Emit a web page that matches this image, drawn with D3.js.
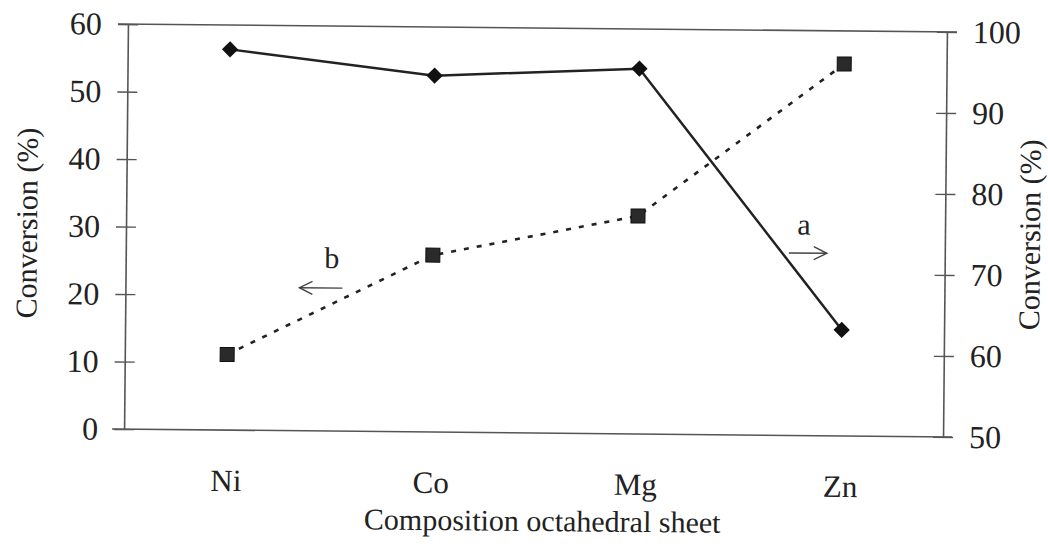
<!DOCTYPE html>
<html>
<head>
<meta charset="utf-8">
<script src="https://cdn.jsdelivr.net/npm/d3@7"></script>
<style>
  html, body { margin: 0; padding: 0; background: #fff; }
  svg { display: block; }
  text { font-family: "Liberation Serif", "Times New Roman", Times, "DejaVu Serif", serif; fill: #222; }
</style>
</head>
<body>
<svg id="chart" width="1048" height="552"></svg>
<script>
// Octahedral-sheet cations
const categories = ["Ni", "Co", "Mg", "Zn"];
// Series a (right axis, solid line with diamonds)
const seriesA = [97.0, 94.0, 95.1, 63.1];
// Series b (left axis, dotted line with squares)
const seriesB = [11.2, 26.2, 32.3, 55.1];
// Axis ticks
const leftTicks = [0, 10, 20, 30, 40, 50, 60];
const rightTicks = [50, 60, 70, 80, 90, 100];

const serif = '"Liberation Serif", "Times New Roman", Times, serif';
const svg = d3.select("#chart");
const m = { left: 126, right: 945, top: 28, bottom: 433 };

// whole figure sits slightly tilted, as printed
const g = svg.append("g")
  .attr("transform", "rotate(0.55, 535, 230)");

const x = d3.scaleBand().domain(categories).range([m.left, m.right]);
const yL = d3.scaleLinear().domain([0, 60]).range([m.bottom, m.top]);
const yR = d3.scaleLinear().domain([50, 100]).range([m.bottom, m.top]);
const cx = d => x(d) + x.bandwidth() / 2;

const axisColor = "#555";

// frame: top and bottom rules
g.append("line").attr("x1", m.left - 10).attr("x2", m.right + 10)
  .attr("y1", yL(60)).attr("y2", yL(60))
  .attr("stroke", axisColor).attr("stroke-width", 1.6);
g.append("line").attr("x1", m.left - 12).attr("x2", m.right + 9)
  .attr("y1", yL(0)).attr("y2", yL(0))
  .attr("stroke", axisColor).attr("stroke-width", 1.6);

// left axis
const leftAxis = d3.axisLeft(yL).tickValues(leftTicks).tickSize(0).tickPadding(26);
const gl = g.append("g").attr("transform", `translate(${m.left},0)`).call(leftAxis);
gl.select(".domain").attr("stroke", axisColor).attr("stroke-width", 1.6);
gl.selectAll(".tick text").style("font-size", "32px").attr("fill", "#222")
  .style("font-family", serif);
gl.selectAll(".tick").append("line")
  .attr("x1", -10).attr("x2", 10).attr("stroke", axisColor).attr("stroke-width", 1.4);

// right axis
const rightAxis = d3.axisRight(yR).tickValues(rightTicks).tickSize(0).tickPadding(26);
const gr = g.append("g").attr("transform", `translate(${m.right},0)`).call(rightAxis);
gr.select(".domain").attr("stroke", axisColor).attr("stroke-width", 1.6);
gr.selectAll(".tick text").style("font-size", "32px").attr("fill", "#222")
  .style("font-family", serif);
gr.selectAll(".tick").append("line")
  .attr("x1", -10).attr("x2", 10).attr("stroke", axisColor).attr("stroke-width", 1.4);

// category labels
const bottomAxis = d3.axisBottom(x).tickSize(0).tickPadding(0);
const gb = g.append("g").attr("transform", `translate(0,${m.bottom})`).call(bottomAxis);
gb.select(".domain").remove();
gb.selectAll(".tick text").attr("dy", null).attr("y", 61)
  .style("font-size", "31px").attr("fill", "#222")
  .style("font-family", serif);

// axis titles
g.append("text").attr("x", 545).attr("y", 531).attr("text-anchor", "middle")
  .style("font-size", "30px").text("Composition octahedral sheet");
g.append("text").attr("transform", "translate(37,228) rotate(-90)")
  .attr("text-anchor", "middle").style("font-size", "30px").text("Conversion (%)");
g.append("text").attr("transform", "translate(1040,230) rotate(-90)")
  .attr("text-anchor", "middle").style("font-size", "30px").text("Conversion (%)");

// series b: dotted line with squares
const lineB = d3.line().x((d, i) => cx(categories[i])).y(d => yL(d));
g.append("path").datum(seriesB).attr("d", lineB)
  .attr("fill", "none").attr("stroke", "#222").attr("stroke-width", 2.6)
  .attr("stroke-dasharray", "5,8");
g.selectAll(".sq").data(seriesB).enter().append("rect")
  .attr("x", (d, i) => cx(categories[i]) - 7).attr("y", d => yL(d) - 7)
  .attr("width", 14).attr("height", 14)
  .attr("fill", "#2a2a2a").attr("stroke", "#111").attr("stroke-width", 1);

// series a: solid line with diamonds
const lineA = d3.line().x((d, i) => cx(categories[i])).y(d => yR(d));
g.append("path").datum(seriesA).attr("d", lineA)
  .attr("fill", "none").attr("stroke", "#222").attr("stroke-width", 2.5);
g.selectAll(".dm").data(seriesA).enter().append("path")
  .attr("d", d3.symbol().type(d3.symbolDiamond2).size(170))
  .attr("transform", (d, i) => `translate(${cx(categories[i])},${yR(d)})`)
  .attr("fill", "#111");

// arrow annotations pointing to each series' axis
function arrow(x1, x2, y, label, lx, ly) {
  const dir = Math.sign(x2 - x1);
  g.append("line").attr("x1", x1).attr("x2", x2).attr("y1", y).attr("y2", y)
    .attr("stroke", "#444").attr("stroke-width", 1.4);
  g.append("path")
    .attr("d", `M${x2 - dir * 13},${y - 6.5} L${x2},${y} L${x2 - dir * 13},${y + 6.5}`)
    .attr("fill", "none").attr("stroke", "#444").attr("stroke-width", 1.4);
  g.append("text").attr("x", lx).attr("y", ly).attr("text-anchor", "middle")
    .style("font-size", "30px").text(label);
}
arrow(789, 827, 250.5, "a", 804, 232);
arrow(343, 300, 290, "b", 332, 270);
</script>
</body>
</html>
